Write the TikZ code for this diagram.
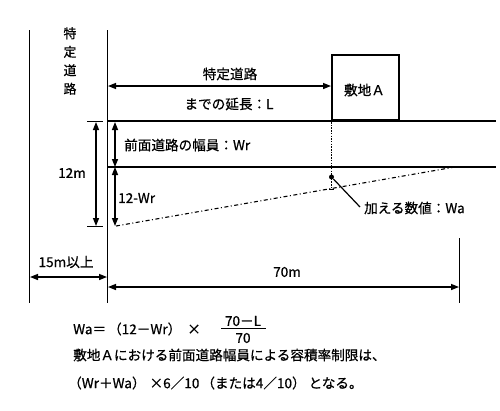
\documentclass[tikz,border=0pt]{standalone}
\usepackage{fontspec}
\setmainfont{Noto Sans CJK JP}[FakeBold=0.6]
\usetikzlibrary{arrows.meta}
\tikzset{
  lbl/.style={inner sep=0pt, font=\fontsize{13.6}{16}\selectfont},
  thinline/.style={line width=1pt},
  mainline/.style={line width=1.5pt},
  dimarrow/.style={line width=1.4pt, {Triangle[length=8pt,width=6pt]}-{Triangle[length=8pt,width=6pt]}},
  dotline/.style={line width=0.7pt, dash pattern=on 1.5pt off 1.2pt},
  dashdot/.style={line width=1.1pt, dash pattern=on 4pt off 2.5pt on 1pt off 2.5pt},
}
\begin{document}
\begin{tikzpicture}[x=1pt,y=-1pt]
\useasboundingbox (0,0) rectangle (500,410);
% coordinates
\coordinate (Ltop) at (29,30);
\coordinate (Lbot) at (29,303);
\coordinate (Rtop) at (107,30);
\coordinate (Rbot) at (107,303);
\coordinate (Etop) at (459,238);
\coordinate (Ebot) at (459,303);
\coordinate (r1a) at (107,121);
\coordinate (r1b) at (496,121);
\coordinate (r2a) at (107,167);
\coordinate (r2b) at (496,167);
% verticals
\draw[thinline] (Ltop) -- (Lbot);
\draw[thinline] (Rtop) -- (Rbot);
\draw[thinline] (Etop) -- (Ebot);
% road lines
\draw[mainline] (r1a) -- (r1b);
\draw[mainline] (r2a) -- (r2b);
% site box
\node[draw, line width=1.8pt, minimum width=67pt, minimum height=65pt, inner sep=0pt, anchor=south west] (site) at (331,121) {};
\node[lbl] (siteL) at (364.5,90) {敷地Ａ};
% vertical label
\node[inner sep=0pt, align=center, font=\fontsize{13}{18.5}\selectfont] (tokutei) at (70,61) {特\\定\\道\\路};
% L arrow
\coordinate (La) at (108,86);
\coordinate (Lb) at (331,86);
\draw[dimarrow] (La) -- (Lb);
\node[lbl] (Lt1) at (230,74) {特定道路};
\node[lbl] (Lt2) at (229,104) {までの延長：L};
% 12m dimension
\coordinate (t1a) at (87,121);
\coordinate (t1b) at (103,121);
\coordinate (t2a) at (87,226);
\coordinate (t2b) at (103,226);
\draw[line width=1pt] (t1a) -- (t1b);
\draw[line width=1pt] (t2a) -- (t2b);
\coordinate (d12a) at (96,122);
\coordinate (d12b) at (96,226);
\draw[dimarrow] (d12a) -- (d12b);
\node[lbl] (m12) at (72,173) {12m};
% Wr arrows
\coordinate (w1) at (115,122);
\coordinate (w2) at (115,167);
\coordinate (w3) at (115,226);
\draw[dimarrow] (w1) -- (w2);
\draw[dimarrow] (w2) -- (w3);
\node[lbl, anchor=west] (wr) at (124,145) {前面道路の幅員：Wr};
\node[lbl, anchor=west] (wr12) at (118,198) {12-Wr};
% dash-dot slope
\coordinate (s1) at (116,226);
\coordinate (s2) at (455,167);
\draw[dashdot] (s1) -- (s2);
% dotted vertical under site
\coordinate (v1) at (331.5,122);
\coordinate (v2) at (331.5,189);
\draw[dotline] (v1) -- (v2);
\coordinate (tk1) at (329,189);
\coordinate (tk2) at (334,189);
\draw[line width=0.7pt] (tk1) -- (tk2);
\node[circle, fill, inner sep=0pt, minimum size=5pt] (dot) at (331.5,177) {};
\coordinate (lead) at (360,207);
\draw[line width=1.2pt] (dot) -- (lead);
\node[lbl, anchor=west] (wa) at (364,208) {加える数値：Wa};
% bottom dims
\coordinate (b1a) at (30,277);
\coordinate (b1b) at (107,277);
\draw[dimarrow] (b1a) -- (b1b);
\node[lbl] (m15) at (66,262) {15m以上};
\coordinate (b2a) at (108,287);
\coordinate (b2b) at (459,287);
\draw[dimarrow] (b2a) -- (b2b);
\node[lbl] (m70) at (287,272) {70m};
% formula
\node[lbl, anchor=west] (f1) at (73,329) {Wa＝\hspace{2pt}（12－Wr）\hspace{6pt}×};
\node[lbl] (num) at (243,321) {70－L};
\node[lbl] (den) at (243,338) {70};
\coordinate (fb1) at (221,328);
\coordinate (fb2) at (266,328);
\draw[line width=1pt] (fb1) -- (fb2);
\node[lbl, anchor=west] (f2) at (73,355) {敷地Ａにおける前面道路幅員による容積率制限は、};
\node[lbl, anchor=west] (f3) at (68,383) {（Wr＋Wa）\hspace{4pt}×6／10\hspace{2pt}（または4／10）\hspace{3pt}となる。};
\end{tikzpicture}
\end{document}
